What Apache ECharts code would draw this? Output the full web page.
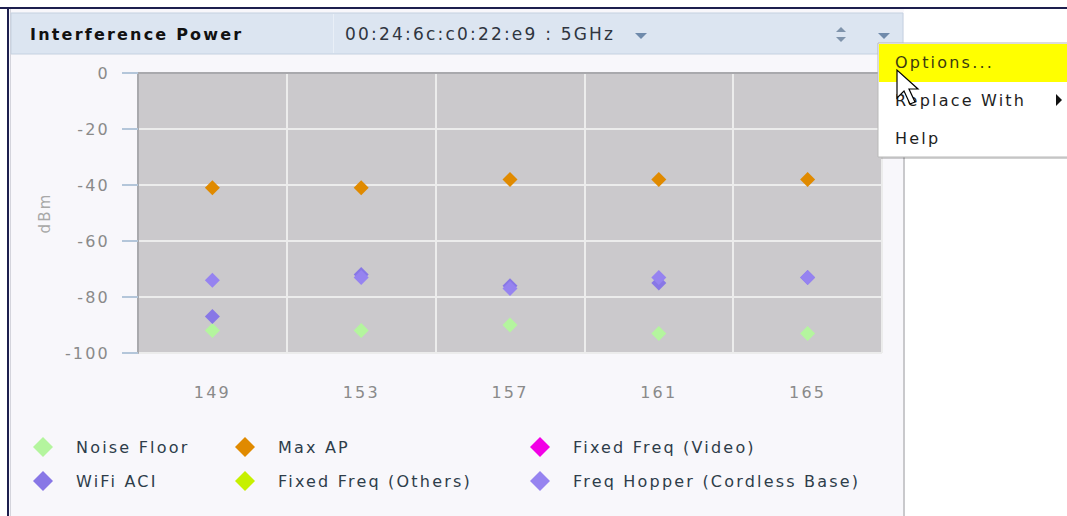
<!DOCTYPE html>
<html>
<head>
<meta charset="utf-8">
<script src="https://cdn.jsdelivr.net/npm/echarts/dist/echarts.min.js"></script>
<style>
  html, body { margin: 0; padding: 0; background: #ffffff; }
  #main { width: 1067px; height: 516px; }
  /* the old widget font is drawn with wide spacing */
  #main text { letter-spacing: 2.2px; }
</style>
</head>
<body>
<div id="main"></div>
<script>
var channels = ['149', '153', '157', '161', '165']
var noiseFloor = [-92, -92, -90, -93, -93]
var maxAP = [-41, -41, -38, -38, -38]
var fixedFreqVideo = []
var wifiACI = [-87, -72, -76, -75, -73]
var fixedFreqOthers = []
var freqHopper = [-74, -73, -77, -73, -73]

var seriesNames = ['Noise Floor', 'Max AP', 'Fixed Freq (Video)', 'WiFi ACI', 'Fixed Freq (Others)', 'Freq Hopper (Cordless Base)']
var seriesColors = ['#b4f59e', '#e08a00', '#f200e6', '#8877e6', '#c6f000', '#9683f0']
var seriesData = [noiseFloor, maxAP, fixedFreqVideo, wifiACI, fixedFreqOthers, freqHopper]

var FONT = '"DejaVu Sans", Verdana, sans-serif'

var chart = echarts.init(document.getElementById('main'), null, { renderer: 'svg' })

var series = []
for (var i = 0; i < seriesNames.length; i++) {
    series.push({
        name: seriesNames[i],
        type: 'scatter',
        symbol: 'diamond',
        symbolSize: 15,
        itemStyle: { color: seriesColors[i], opacity: 1 },
        data: seriesData[i]
    })
}

// legend is laid out in three columns, two rows each
function legendAt(left, names) {
    return {
        orient: 'vertical',
        left: left,
        top: 432,
        icon: 'diamond',
        itemWidth: 20,
        itemHeight: 20,
        itemGap: 14,
        selectedMode: false,
        textStyle: { color: '#2e3d4a', fontSize: 16, fontFamily: FONT, padding: [0, 0, 0, 18] },
        data: names
    }
}

// header, panel frame and the popup menu
var graphics = [
    { type: 'rect', shape: { x: 904, y: 0, width: 163, height: 516 }, style: { fill: '#ffffff' }, z: -10 },
    { type: 'rect', shape: { x: 903, y: 54, width: 2, height: 462 }, style: { fill: '#c9c9cc' }, z: -9 },
    { type: 'rect', shape: { x: 0, y: 0, width: 1067, height: 7 }, style: { fill: '#ffffff' }, z: -9 },
    { type: 'rect', shape: { x: 0, y: 7, width: 1067, height: 2 }, style: { fill: '#1d1f4e' }, z: -8 },
    { type: 'rect', shape: { x: 0, y: 0, width: 7, height: 516 }, style: { fill: '#ffffff' }, z: -9 },
    { type: 'rect', shape: { x: 7, y: 7, width: 2, height: 509 }, style: { fill: '#1d1f4e' }, z: -8 },
    { type: 'rect', shape: { x: 10, y: 9, width: 1, height: 507 }, style: { fill: '#d4d4dc' }, z: -8 },
    { type: 'rect', shape: { x: 11, y: 13, width: 892, height: 41 }, style: { fill: '#dce5f1', stroke: '#c5d1e0', lineWidth: 1 }, z: -7 },
    { type: 'rect', shape: { x: 333, y: 14, width: 1, height: 39 }, style: { fill: '#e9eff7' }, z: -6 },
    { type: 'text', style: { text: 'Interference Power', x: 30, y: 34, fill: '#111111', font: 'bold 16px ' + FONT, verticalAlign: 'middle' } },
    { type: 'text', style: { text: '00:24:6c:c0:22:e9 : 5GHz', x: 345, y: 34, fill: '#2f3540', font: '17px ' + FONT, verticalAlign: 'middle' } },
    { type: 'polygon', shape: { points: [[635, 33], [647, 33], [641, 39]] }, style: { fill: '#6f8aab' } },
    { type: 'polygon', shape: { points: [[836, 32], [846, 32], [841, 27]] }, style: { fill: '#7f93ab' } },
    { type: 'polygon', shape: { points: [[836, 37], [846, 37], [841, 42]] }, style: { fill: '#7f93ab' } },
    { type: 'polygon', shape: { points: [[878, 33], [890, 33], [884, 39]] }, style: { fill: '#6f8aab' } },
    // menu
    { type: 'rect', z: 100, shape: { x: 881, y: 46, width: 200, height: 113 }, style: { fill: 'rgba(0,0,0,0.18)' } },
    { type: 'rect', z: 101, shape: { x: 878, y: 43, width: 200, height: 114 }, style: { fill: '#ffffff', stroke: '#b9b9b9', lineWidth: 1 } },
    { type: 'rect', z: 102, shape: { x: 879, y: 44, width: 199, height: 38 }, style: { fill: '#ffff00' } },
    { type: 'text', z: 103, style: { text: 'Options...', x: 895, y: 62, fill: '#3b3b10', font: '16px ' + FONT, verticalAlign: 'middle' } },
    { type: 'text', z: 103, style: { text: 'Replace With', x: 895, y: 100, fill: '#1e1e1e', font: '16px ' + FONT, verticalAlign: 'middle' } },
    { type: 'text', z: 103, style: { text: 'Help', x: 895, y: 138, fill: '#1e1e1e', font: '16px ' + FONT, verticalAlign: 'middle' } },
    { type: 'polygon', z: 103, shape: { points: [[1056, 94], [1056, 106], [1062, 100]] }, style: { fill: '#111111' } },
    // mouse pointer
    { type: 'polygon', z: 104, shape: { points: [[897, 70], [897, 98], [904, 91], [910, 104], [915, 102], [909, 89], [918, 89]] },
      style: { fill: '#ffffff', stroke: '#000000', lineWidth: 1.2 } }
]

var option = {
    backgroundColor: '#f8f7fb',
    animation: false,
    textStyle: { fontFamily: FONT },
    grid: {
        left: 138, right: 185, top: 73, bottom: 163,
        show: true, backgroundColor: '#cbc9cc', borderWidth: 0
    },
    legend: [
        legendAt(28, ['Noise Floor', 'WiFi ACI']),
        legendAt(230, ['Max AP', 'Fixed Freq (Others)']),
        legendAt(525, ['Fixed Freq (Video)', 'Freq Hopper (Cordless Base)'])
    ],
    xAxis: {
        type: 'category',
        data: channels,
        boundaryGap: true,
        axisLine: { lineStyle: { color: '#a9a9ad', width: 2 } },
        axisTick: { length: 15, interval: 0, lineStyle: { color: '#b4c6da', width: 2 } },
        axisLabel: { margin: 31, color: '#8a8a8a', fontSize: 16, fontFamily: FONT },
        splitLine: { show: true, interval: 0, lineStyle: { color: '#ececec', width: 2 } }
    },
    yAxis: {
        type: 'value',
        min: -100,
        max: 0,
        interval: 20,
        name: 'dBm',
        nameLocation: 'middle',
        nameGap: 86,
        nameTextStyle: { color: '#a8a8a8', fontSize: 15, fontFamily: FONT },
        axisLine: { show: true, lineStyle: { color: '#a9a9ad', width: 2 } },
        axisTick: { show: true, length: 16, lineStyle: { color: '#b4c6da', width: 2 } },
        axisLabel: { margin: 28, color: '#8a8a8a', fontSize: 16, fontFamily: FONT },
        splitLine: { show: true, lineStyle: { color: '#ececec', width: 2 } }
    },
    graphic: graphics,
    series: series
}

chart.setOption(option)
</script>
</body>
</html>
